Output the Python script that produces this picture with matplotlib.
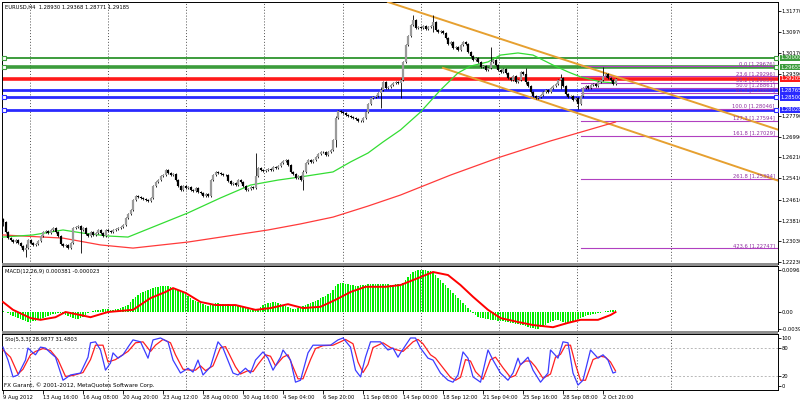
import numpy as np
import matplotlib
matplotlib.use("Agg")
import matplotlib.pyplot as plt
from matplotlib import font_manager
from matplotlib.patches import Rectangle
from matplotlib.transforms import blended_transform_factory, ScaledTranslation

# ---- data ----
symbol_title = "EURUSD,H4  1.28930 1.29368 1.28771 1.29185"
macd_title = "MACD(12,26,9) 0.000381 -0.000023"
sto_title = "Sto(5,3,3) 28.9877 31.4803"
copyright_txt = "FX Garant, \u00a9 2001-2012, MetaQuotes Software Corp."

first_open = 1.2385
closes = [
    1.2375, 1.2337, 1.2314, 1.2307,
    1.2299, 1.2307, 1.2295, 1.2284, 1.2269,
    1.2276, 1.2307, 1.2295, 1.2288,
    1.2292, 1.2303, 1.2322, 1.2337,
    1.2341, 1.2333, 1.2345, 1.2352, 1.2337, 1.2322,
    1.2292, 1.2284, 1.2288, 1.2276, 1.2295,
    1.2352, 1.2356, 1.2360, 1.2345, 1.2352,
    1.2330, 1.2322, 1.2337, 1.2326, 1.2333,
    1.2345, 1.2333, 1.2322, 1.2345, 1.2341,
    1.2337, 1.2345, 1.2349, 1.2352, 1.2356,
    1.2364, 1.2391, 1.2406, 1.2421,
    1.2459, 1.2474, 1.2470, 1.2467, 1.2463,
    1.2459, 1.2455, 1.2467, 1.2513,
    1.2528, 1.2535, 1.2551, 1.2554, 1.2573, 1.2562,
    1.2554, 1.2558, 1.2535, 1.2513, 1.2497, 1.2513,
    1.2505, 1.2509, 1.2497, 1.2494, 1.2505, 1.2490,
    1.2486, 1.2474, 1.2482, 1.2474,
    1.2535, 1.2554, 1.2566, 1.2562, 1.2558, 1.2554,
    1.2554, 1.2532, 1.2520, 1.2524, 1.2516, 1.2535,
    1.2528, 1.2513, 1.2497, 1.2501, 1.2509, 1.2505,
    1.2551, 1.2581, 1.2573, 1.2570, 1.2573, 1.2577,
    1.2573, 1.2585, 1.2581, 1.2589, 1.2600, 1.2608,
    1.2611, 1.2592, 1.2566, 1.2558, 1.2543, 1.2551,
    1.2535, 1.2566, 1.2600, 1.2611, 1.2604, 1.2611,
    1.2623, 1.2634, 1.2642, 1.2642, 1.2631, 1.2642,
    1.2650, 1.2688, 1.2772, 1.2798,
    1.2794, 1.2791, 1.2783, 1.2779, 1.2775, 1.2772,
    1.2768, 1.2760, 1.2760, 1.2772, 1.2794, 1.2825,
    1.2848, 1.2852, 1.2855, 1.2867, 1.2878, 1.2909,
    1.2886, 1.2890, 1.2897, 1.2905, 1.2909, 1.2905,
    1.2916, 1.2985, 1.3050, 1.3084, 1.3126, 1.3145,
    1.3114, 1.3118, 1.3114, 1.3122, 1.3110, 1.3118,
    1.3122, 1.3137, 1.3106, 1.3099, 1.3103, 1.3095,
    1.3076, 1.3053, 1.3061, 1.3038, 1.3042, 1.3030,
    1.3049, 1.3061, 1.3053, 1.3023, 1.3007, 1.2992,
    1.3000, 1.2985, 1.2966, 1.2969, 1.2954, 1.2962,
    1.2985, 1.2992, 1.2973, 1.2954, 1.2947, 1.2958,
    1.2943, 1.2924, 1.2916, 1.2931, 1.2909, 1.2916,
    1.2947, 1.2939, 1.2909, 1.2893, 1.2870, 1.2855,
    1.2848, 1.2852, 1.2859, 1.2870, 1.2878, 1.2870,
    1.2886, 1.2893, 1.2901, 1.2916, 1.2924, 1.2893,
    1.2863, 1.2852, 1.2855, 1.2840, 1.2848, 1.2825,
    1.2855, 1.2886, 1.2893, 1.2886, 1.2897, 1.2901,
    1.2893, 1.2909, 1.2916, 1.2931, 1.2939, 1.2924,
    1.2916, 1.2901, 1.29185,
]
# candles with a visible long wick: bar -> (high, low)
wick_spikes = {
    0: (1.2392, 1.2360), 9: (1.2290, 1.2242), 31: (1.2362, 1.2257),
    101: (1.2638, 1.2540), 120: (1.2575, 1.2497), 133: (1.2780, 1.2660),
    151: (1.2890, 1.2811), 159: (1.2925, 1.2848), 164: (1.3164, 1.3120),
    172: (1.3164, 1.3100), 195: (1.3042, 1.2960), 209: (1.2962, 1.2900),
    223: (1.2940, 1.2880), 230: (1.2850, 1.2806), 240: (1.2966, 1.2915),
}

ma_fast_idx = [0, 12, 24, 32, 42, 50, 62, 74, 87, 99, 110, 119, 132, 139, 146, 152, 159, 167, 175, 182,
               187, 194, 199, 206, 212, 220, 226, 231, 239, 245]
ma_fast = [1.2318, 1.2326, 1.2345, 1.2333, 1.2322, 1.2318, 1.2364, 1.2410, 1.2467, 1.2516, 1.2535, 1.2547,
           1.2566, 1.2604, 1.2638, 1.2680, 1.2726, 1.2794, 1.2878, 1.2943, 1.2969, 1.2985, 1.3011,
           1.3019, 1.3011, 1.2973, 1.2947, 1.2928, 1.2909, 1.2905]
ma_slow_idx = [0, 24, 39, 52, 74, 106, 119, 132, 146, 159, 179, 199, 219, 245]
ma_slow = [1.2326, 1.2314, 1.2288, 1.2276, 1.2299, 1.2345, 1.2368, 1.2394, 1.2436, 1.2478, 1.2554,
           1.2623, 1.2684, 1.2756]

level_prices = [1.30000, 1.29655, 1.29205, 1.28765, 1.28500, 1.28028]
level_colors = ["#3c9c3c", "#3c9c3c", "#ff1a1a", "#2a2aff", "#2a2aff", "#2a2aff"]
level_widths = [1.4, 2.6, 2.6, 2.0, 2.0, 2.0]
level_anchored = [True, True, False, False, True, True]

fib_start = 231
fib_levels = [0.0, 23.6, 38.2, 50.0, 61.8, 100.0, 127.3, 161.8, 261.8, 423.6]
fib_prices = [1.29676, 1.29296, 1.29053, 1.28861, 1.28669, 1.28046, 1.27594, 1.27029, 1.25394, 1.22747]

trend_upper_x = [154, 310]
trend_upper_y = [1.3213, 1.2727]
trend_lower_x = [176, 310]
trend_lower_y = [1.2962, 1.2533]

main_ticks = [1.31770, 1.30970, 1.30170, 1.29390, 1.27790, 1.26990, 1.26210, 1.25410,
              1.24610, 1.23810, 1.23030, 1.22230]

# MACD main (histogram) per bar, in units of 0.0001
macd_hist = [
    2, 0, -2, -7,
    -9, -12, -14, -16, -18, -21, -23, -23,
    -21, -21, -18, -16, -14, -12, -9,
    -7, -5, -5, -2, -2, -5,
    -7, -9, -12, -14, -16, -16, -14, -12,
    -7, -2, 0, 2, 5, 5,
    5, 7, 7, 7, 5, 5, 7, 7, 9, 12, 14, 16,
    23, 30, 35, 39, 44, 46, 48, 51,
    53, 55, 58, 58, 60, 60, 60, 60, 58,
    55, 53, 51, 48, 46, 41, 37, 32, 28, 25, 23, 21, 18,
    16, 14, 16, 18, 21, 21, 18, 18,
    18, 18, 16, 16, 14, 14, 12, 12, 9, 7, 5, 5,
    5, 7, 12, 16, 18, 21,
    21, 23, 23, 21, 18, 16, 14,
    12, 9, 7, 7, 9, 12, 14,
    16, 18, 21, 23, 25, 28, 32, 35, 37, 41, 44,
    51, 60, 64, 67, 67, 64, 64,
    62, 62, 60, 60, 62, 62, 62, 64, 64, 64, 64, 64, 64, 64, 64, 64, 62, 62, 64, 64,
    62, 67, 74, 80, 87, 92, 94, 97,
    97, 96, 96, 95,
    94, 90, 85, 78, 74, 67, 62, 55, 51, 44, 39, 32, 28, 21, 16, 9,
    5, -2, -7, -12,
    -14, -14, -16, -16, -18, -18, -18, -21, -21, -21,
    -23, -23, -25, -25, -28, -28, -30, -30, -32, -34, -36, -37, -39, -38, -35,
    -32, -30, -25, -23, -21, -18, -18,
    -21, -23, -25, -25, -23, -21, -18,
    -16, -14, -12, -9, -7, -7, -5, -5, -2, -2, 0,
    2, 2, 4, 4, 3.81,
]
macd_sig_idx = [0, 4, 11, 15, 21, 25, 31, 35, 42, 52, 59, 65, 68, 73, 79, 85, 93, 101, 107, 114, 120, 127,
                133, 139, 145, 153, 159, 166, 172, 178, 183, 188, 194, 199, 206, 212, 220, 226, 231, 238, 243, 245]
macd_sig = [23, 5, -14, -18, -12, 0, -7, -12, 0, 5, 32, 46, 55, 44, 23, 16, 16, 5, 9, 18, 9, 12,
            28, 46, 58, 58, 62, 78, 92, 85, 62, 35, 5, -14, -23, -30, -35, -25, -18, -18, -7, -0.23]
macd_ticks = [0.00965, 0.0, -0.00396]
macd_tick_labels = ["0.00965", "0.00", "-0.00396"]

sto_idx = [0, 2, 4, 6, 9, 10, 12, 13, 15, 17, 19, 21, 24, 27, 31, 34, 35, 37, 39, 41, 43, 44, 46, 48, 50,
           52, 55, 58, 60, 63, 66, 68, 71, 74, 76, 78, 80, 83, 86, 88, 92, 94, 97, 99, 101, 104, 106, 108,
           111, 112, 115, 117, 119, 122, 124, 127, 131, 134, 136, 139, 141, 143, 145, 147, 151, 154, 156,
           158, 159, 163, 165, 167, 170, 172, 175, 178, 180, 182, 184, 186, 188, 191, 194, 196, 199, 202,
           204, 206, 207, 210, 212, 215, 218, 219, 222, 224, 226, 228, 230, 232, 235, 238, 240, 242, 244, 245]
sto_main = [81, 54, 19, 23, 54, 79, 69, 65, 81, 79, 69, 60, 12, 23, 27, 60, 90, 92, 75, 33, 48, 69, 58, 65, 81,
            96, 92, 58, 96, 100, 92, 54, 27, 37, 29, 54, 23, 40, 92, 79, 27, 23, 37, 27, 54, 71, 58, 33,
            60, 75, 54, 8, 12, 69, 85, 85, 85, 96, 100, 81, 33, 19, 60, 92, 92, 75, 79,
            60, 69, 100, 100, 79, 58, 54, 27, 12, 8, 23, 71, 58, 19, 8, 75, 54, 27, 12,
            27, 58, 44, 60, 33, 8, 27, 75, 58, 92, 90, 27, 2, 12, 75, 58, 65, 54, 27, 28.99]
sto_sig_idx = [0, 3, 6, 8, 11, 13, 16, 19, 22, 25, 28, 32, 35, 37, 40, 42, 45, 47, 50, 53, 56, 59, 61, 64,
               67, 69, 72, 75, 77, 79, 81, 84, 87, 89, 93, 95, 98, 100, 102, 105, 107, 109, 112, 114, 116,
               118, 120, 123, 125, 128, 132, 135, 137, 140, 142, 144, 146, 148, 152, 155, 157, 160, 164,
               166, 168, 171, 173, 176, 179, 181, 183, 185, 187, 189, 192, 195, 197, 200, 203, 205, 207,
               209, 211, 213, 216, 219, 221, 223, 225, 227, 229, 231, 233, 236, 239, 241, 243, 245]
sto_sig = [75, 60, 25, 35, 65, 72, 78, 74, 55, 20, 22, 28, 55, 85, 85, 50, 55, 62, 72, 90, 92, 72, 85, 97,
           90, 65, 35, 33, 33, 42, 32, 42, 80, 82, 40, 25, 32, 30, 45, 65, 62, 42, 60, 65, 40,
           15, 15, 55, 78, 84, 85, 92, 97, 88, 50, 28, 45, 80, 90, 80, 76, 72, 92,
           97, 88, 65, 58, 38, 18, 12, 18, 55, 52, 30, 14, 55, 60, 38, 18, 22, 45,
           52, 52, 40, 16, 25, 60, 66, 85, 85, 45, 12, 12, 55, 62, 60, 50, 31.48]
sto_levels = [80, 20]
sto_ticks = [100, 80, 20, 0]

date_labels = ["9 Aug 2012", "13 Aug 16:00", "16 Aug 08:00", "20 Aug 20:00", "23 Aug 12:00",
               "28 Aug 00:00", "30 Aug 16:00", "4 Sep 04:00", "6 Sep 20:00", "11 Sep 08:00",
               "14 Sep 00:00", "18 Sep 12:00", "21 Sep 04:00", "25 Sep 16:00", "28 Sep 08:00",
               "2 Oct 20:00"]
date_step = 16
grid_bars = [10.8, 42, 73.2, 104.4, 136, 167.2, 198.4, 229.6, 267.2]

# ---- fonts: the terminal font is narrow, prefer a condensed face ----
faces = font_manager.fontManager.ttflist
narrow = [f for f in faces if f.style == "normal" and f.weight in (400, "normal", "regular")
          and ("Narrow" in f.name or "Condensed" in f.name or str(f.stretch) in ("condensed", "semi-condensed"))
          and "Mono" not in f.name and "Serif" not in f.name]
installed = {f.name for f in faces}
if narrow:
    FONT = narrow[0].name
    plt.rcParams["font.stretch"] = narrow[0].stretch
elif "Liberation Sans" in installed:
    FONT = "Liberation Sans"
else:
    FONT = "DejaVu Sans"
plt.rcParams["font.family"] = [FONT, "DejaVu Sans"]

W, H = 800, 400
fig = plt.figure(figsize=(8, 4), dpi=100)
fig.patch.set_facecolor("white")

# size the font so a date label is as wide as in the picture (~35 px)
renderer = fig.canvas.get_renderer()
probe = fig.text(0, 0, "13 Aug 16:00", fontsize=10)
FS = 10 * 35.0 / probe.get_window_extent(renderer=renderer).width
probe.remove()


def px_box(left, top, right, bottom):
    return [left / W, 1 - bottom / H, (right - left) / W, (bottom - top) / H]


ax = fig.add_axes(px_box(2, 2, 778, 264))
ax_macd = fig.add_axes(px_box(2, 266, 778, 331), sharex=ax)
ax_sto = fig.add_axes(px_box(2, 334, 778, 390), sharex=ax)

n = len(closes)
idx = np.arange(n)
close = np.array(closes)
opens = np.r_[first_open, close[:-1]]
WICK = 0.0004
highs = np.maximum(opens, close) + WICK
lows = np.minimum(opens, close) - WICK
for b, (hi, lo) in wick_spikes.items():
    highs[b] = max(highs[b], hi)
    lows[b] = min(lows[b], lo)

# ---- main panel ----
for b in grid_bars:
    for a in (ax, ax_macd, ax_sto):
        a.axvline(b, color="#505050", lw=0.7, ls=(0, (1, 2)), zorder=1)

for p, c, lw in zip(level_prices, level_colors, level_widths):
    ax.axhline(p, color=c, lw=lw, zorder=2)

for lvl, p in zip(fib_levels, fib_prices):
    ax.plot([fib_start, 310], [p, p], color="#b040c0", lw=0.8, zorder=2)
    ax.text(308.8, p + 0.0002, f"{lvl:.1f} [{p:.5f}]", color="#9030a0", fontsize=FS,
            ha="right", va="bottom", zorder=4)

ax.plot(trend_upper_x, trend_upper_y, color="#e6a030", lw=1.4, zorder=3)
ax.plot(trend_lower_x, trend_lower_y, color="#e6a030", lw=1.4, zorder=3)

ax.plot(ma_slow_idx, ma_slow, color="#ff3a3a", lw=0.9, zorder=3)
ax.plot(ma_fast_idx, ma_fast, color="#33dd33", lw=0.9, zorder=3)

bull = close >= opens
ax.vlines(idx, lows, highs, color="black", lw=0.6, zorder=4)
ax.vlines(idx, np.minimum(opens, close), np.maximum(opens, close) + 0.00008,
          colors=np.where(bull, "#9a9a9a", "#000000"), lw=1.6, zorder=5)

for p, c, anchored in zip(level_prices, level_colors, level_anchored):
    if anchored:
        ax.plot([0.2, 309.3], [p, p], "s", ms=2.6, mfc="white", mec=c, mew=0.8,
                clip_on=False, zorder=6)

ax.set_xlim(-0.4, 310)
ax.set_ylim(1.22154, 1.32131)
ax.text(0.004, 0.99, symbol_title, transform=ax.transAxes, fontsize=FS, va="top", ha="left")

trans = blended_transform_factory(ax.transAxes, ax.transData)
for p, c in zip(level_prices, level_colors):
    ax.text(1.003, p, f"{p:.5f}", transform=trans, color="white", fontsize=FS, ha="left",
            va="center", clip_on=False, zorder=7,
            bbox=dict(boxstyle="square,pad=0.12", fc=c, ec="none"))

ax.yaxis.tick_right()
ax.set_yticks(main_ticks)
ax.set_yticklabels([f"{t:.5f}" for t in main_ticks])

# ---- MACD ----
ax_macd.bar(idx, np.array(macd_hist) * 1e-4, width=0.65, color="#00ee00", lw=0, zorder=2)
ax_macd.plot(macd_sig_idx, np.array(macd_sig) * 1e-4, color="#ff0000", lw=1.4, zorder=3)
ax_macd.set_ylim(-0.00437, 0.01058)
ax_macd.yaxis.tick_right()
ax_macd.set_yticks(macd_ticks)
ax_macd.set_yticklabels(macd_tick_labels)
ax_macd.text(0.004, 0.96, macd_title, transform=ax_macd.transAxes, fontsize=FS, va="top")

# ---- Stochastic ----
for lv in sto_levels:
    ax_sto.axhline(lv, color="#b8b8b8", lw=0.7, ls=(0, (2, 2)), zorder=1)
ax_sto.plot(sto_sig_idx, sto_sig, color="#ff2020", lw=0.9, zorder=3)
ax_sto.plot(sto_idx, sto_main, color="#3c3cff", lw=0.9, zorder=3)
ax_sto.set_ylim(-8.3, 108.3)
ax_sto.yaxis.tick_right()
ax_sto.set_yticks(sto_ticks)
ax_sto.set_yticklabels([str(t) for t in sto_ticks])
ax_sto.text(0.004, 0.95, sto_title, transform=ax_sto.transAxes, fontsize=FS, va="top")
ax_sto.text(0.002, 0.03, copyright_txt, transform=ax_sto.transAxes, fontsize=FS * 1.08, va="bottom")

ax_sto.set_xticks([date_step * k for k in range(len(date_labels))])
ax_sto.set_xticklabels(date_labels, ha="left")
shift = ScaledTranslation(1.5 / 100, 0, fig.dpi_scale_trans)
for lab in ax_sto.get_xticklabels():
    lab.set_transform(lab.get_transform() + shift)

for a in (ax, ax_macd, ax_sto):
    a.set_facecolor("white")
    for s in a.spines.values():
        s.set_color("black")
        s.set_linewidth(0.7)
    a.tick_params(axis="y", labelsize=FS, length=2, pad=0.8, width=0.6, colors="black")
    a.tick_params(axis="x", labelsize=FS, length=3, pad=0.3, width=0.6)
for a in (ax, ax_macd):
    a.tick_params(axis="x", bottom=False, labelbottom=False)

# gray panel separators
for top in (263, 331):
    fig.patches.append(Rectangle((2 / W, 1 - (top + 3) / H), 776 / W, 3 / H,
                                 transform=fig.transFigure, fc="#8f8f8f", ec="none", zorder=10))

fig.savefig("out.png", dpi=100, facecolor="white")
